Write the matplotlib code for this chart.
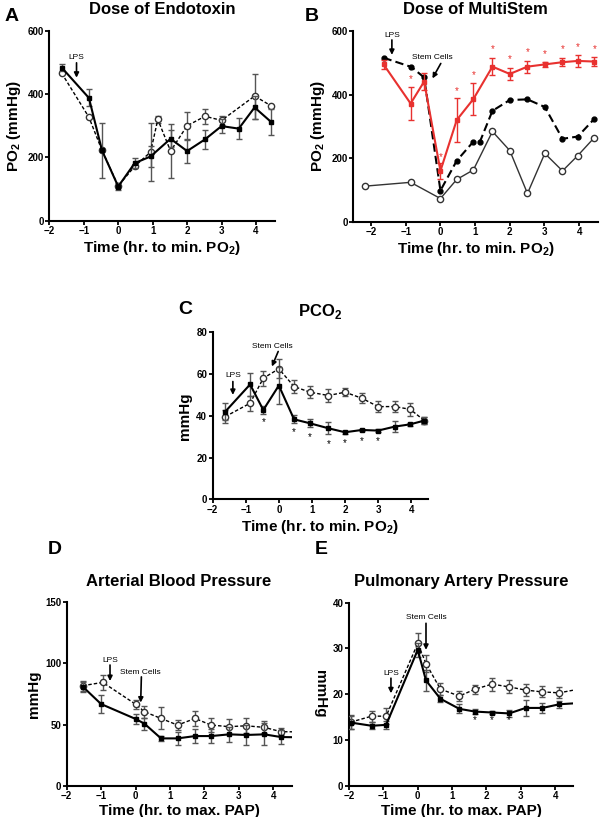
import numpy as np
import matplotlib
matplotlib.use("Agg")
import matplotlib.pyplot as plt

plt.rcParams['font.family'] = ['Liberation Sans', 'DejaVu Sans']
plt.rcParams['mathtext.fontset'] = 'custom'
plt.rcParams['mathtext.rm'] = 'Liberation Sans'
plt.rcParams['mathtext.bf'] = 'Liberation Sans:bold'

#%% data
# A - dose of endotoxin
a_x_solid = [-1.64, -0.85, -0.47, 0.0, 0.48, 0.94, 1.52, 2.0, 2.52, 3.0, 3.5, 3.96, 4.44]
a_y_solid = [484, 388, 222, 108, 182, 203, 259, 220, 257, 299, 291, 358, 312]
a_e_solid = [10, 27, 87, 12, 16, 32, 27, 38, 29, 21, 33, 35, 40]
a_x_open = [-1.64, -0.85, -0.47, 0.0, 0.48, 0.94, 1.15, 1.52, 2.0, 2.52, 3.0, 3.96, 4.44]
a_y_open = [466, 327, 222, 110, 172, 217, 320, 220, 300, 330, 317, 394, 363]
a_e_open = [0, 0, 0, 0, 0, 92, 12, 85, 44, 24, 13, 71, 0]

# B - dose of MultiStem
b_x_red = [-1.64, -0.86, -0.47, 0.0, 0.47, 0.95, 1.5, 2.0, 2.51, 3.01, 3.52, 3.96, 4.44]
b_y_red = [495, 372, 441, 160, 320, 386, 488, 465, 488, 495, 502, 506, 504]
b_e_red = [14, 51, 26, 24, 68, 49, 27, 18, 19, 7, 12, 19, 15]
b_star_x = [-0.86, 0.0, 0.47, 0.95, 1.5, 2.0, 2.51, 3.01, 3.52, 3.96, 4.44]
b_star_y = [448, 205, 412, 462, 542, 511, 535, 527, 542, 548, 544]
b_x_dash = [-1.64, -0.84, -0.47, 0.0, 0.47, 0.95, 1.14, 1.5, 2.0, 2.51, 3.01, 3.52, 3.96, 4.44]
b_y_dash = [516, 487, 454, 98, 192, 252, 252, 349, 383, 385, 361, 261, 268, 324]
b_x_gray = [-2.17, -0.86, 0.0, 0.47, 0.95, 1.5, 2.0, 2.51, 3.01, 3.52, 3.96, 4.44]
b_y_gray = [112, 124, 73, 133, 163, 284, 224, 89, 215, 160, 208, 265]

# C - PCO2
c_x = [-1.62, -0.87, -0.47, 0.0, 0.46, 0.94, 1.5, 2.0, 2.51, 3.0, 3.5, 3.97, 4.4]
c_y_solid = [42, 55, 42.8, 54.5, 38.3, 36.4, 34, 32.1, 33.2, 32.9, 34.8, 35.9, 37.7]
c_e_solid = [4, 5.5, 2, 9, 2, 2, 2.8, 0.6, 0.6, 0.8, 2.8, 0.8, 1.5]
c_y_open = [39.6, 46, 58, 62.5, 54, 51.3, 49.7, 51.3, 48.4, 44.4, 44.4, 43.1, 37.7]
c_e_open = [3, 3.5, 3.5, 4.5, 3, 3, 3, 2, 2.5, 2.5, 2.7, 3, 1.5]
c_star_x = [-0.47, 0.46, 0.94, 1.5, 2.0, 2.51, 3.0]
c_star_y = [37, 32, 30, 26.6, 27, 28, 28]

# D - arterial blood pressure
d_x = [-1.53, -1.0, 0.01, 0.26, 0.74, 1.22, 1.73, 2.19, 2.72, 3.21, 3.74, 4.22, 4.75]
d_y_solid = [81, 66.8, 54.5, 50.7, 38.7, 38.7, 40.6, 40.6, 42, 41.5, 42, 39.8, 39.6]
d_e_solid = [4, 7, 4, 5, 2, 5, 6, 6, 6, 8, 9, 6, 0]
d_x_open = [-1.53, -0.95, 0.01, 0.26, 0.74, 1.22, 1.73, 2.19, 2.72, 3.21, 3.74, 4.22, 4.75]
d_y_open = [81.8, 84.5, 66.5, 60.5, 55, 49.6, 55, 49.6, 48.3, 49, 47.7, 44.2, 44]
d_e_open = [4, 6, 4, 5, 9, 4, 6, 6, 6, 6, 5, 3, 0]

# E - pulmonary artery pressure
e_x = [-1.95, -1.34, -0.92, 0.0, 0.24, 0.66, 1.21, 1.67, 2.16, 2.66, 3.14, 3.63, 4.12, 4.75]
e_y_solid = [13.8, 13.1, 13.3, 29.7, 23, 19, 16.8, 16.2, 16, 15.8, 17, 17, 17.8, 18.1]
e_e_solid = [1.5, 0.8, 0.8, 1.5, 2.2, 0.8, 1, 0.5, 0.3, 0.7, 1.8, 1, 0.8, 0]
e_y_open = [13.9, 15.2, 15.2, 31.1, 26.7, 21.1, 19.6, 21.1, 22.2, 21.6, 20.9, 20.5, 20.3, 21.2]
e_e_open = [1.5, 1.2, 1.8, 2.2, 1.8, 1.3, 1, 1, 1.4, 1.4, 1.4, 1.2, 1.2, 0]
e_star_x = [1.67, 2.16, 2.66]
e_star_y = [14.3, 14.3, 14.3]

#%% helpers
ERR = '#555555'
RED = '#e8312f'


def style(ax, xlim, ylim, yticks, xticks):
    ax.set_xlim(*xlim)
    ax.set_ylim(*ylim)
    ax.set_yticks(yticks)
    ax.set_xticks(xticks)
    for s in ['top', 'right']:
        ax.spines[s].set_visible(False)
    for s in ['left', 'bottom']:
        ax.spines[s].set_linewidth(1.5)
    ax.tick_params(width=1.3, length=3, labelsize=7, pad=1)
    for lab in ax.get_xticklabels() + ax.get_yticklabels():
        lab.set_fontweight('bold')


def solid(ax, x, y, e, color='black', ecolor=ERR):
    ax.errorbar(x, y, yerr=e, color=color, ecolor=ecolor, lw=1.5, elinewidth=1,
                capsize=2.5, capthick=1, marker='s', ms=3.5, mfc=color, mec=color,
                zorder=3)


def dashed(ax, x, y, e):
    ax.errorbar(x, y, yerr=e, color='black', ecolor=ERR, lw=1, ls=(0, (2.5, 1.5)),
                elinewidth=1, capsize=2.5, capthick=1, marker='o', ms=4.5, mfc='white',
                mec='#333333', mew=1, zorder=2)


def arrow(ax, label, x, ytext, y0, y1, size=6):
    ax.text(x, ytext, label, ha='center', va='bottom', fontsize=size)
    ax.annotate('', xy=(x, y1), xytext=(x, y0),
                arrowprops=dict(arrowstyle='-|>', color='black', lw=1.2,
                                mutation_scale=7, shrinkA=0, shrinkB=0))


def stars(ax, x, y, color='black'):
    for xi, yi in zip(x, y):
        ax.text(xi, yi, '*', ha='center', va='center', fontsize=7, color=color)


fig = plt.figure(figsize=(6, 8.17), dpi=100)

#%% A
ax = fig.add_axes([0.0822, 0.7299, 0.376, 0.2323])
dashed(ax, a_x_open, a_y_open, a_e_open)
solid(ax, a_x_solid, a_y_solid, a_e_solid)
style(ax, (-2, 4.55), (0, 600), [0, 200, 400, 600], [-2, -1, 0, 1, 2, 3, 4])
arrow(ax, 'LPS', -1.21, 505, 499, 452)
ax.set_title('Dose of Endotoxin', fontsize=12, fontweight='bold', pad=12)
ax.set_ylabel('PO$_\\mathbf{2}$ (mmHg)', fontsize=11, fontweight='bold', labelpad=3)
ax.set_xlabel('Time (hr. to min. PO$_\\mathbf{2}$)', fontsize=11, fontweight='bold', labelpad=2)
fig.text(0.008, 0.99, 'A', fontsize=14, fontweight='bold', va='top')

#%% B
ax = fig.add_axes([0.589, 0.7286, 0.408, 0.2334])
ax.plot(b_x_gray, b_y_gray, color='#333333', lw=1, marker='o', ms=4.5, mfc='white',
        mec='#333333', mew=1, zorder=2)
ax.plot(b_x_dash, b_y_dash, color='black', lw=1.5, ls=(0, (4, 2)), marker='o', ms=3.5,
        mfc='black', zorder=2)
solid(ax, b_x_red, b_y_red, b_e_red, color=RED, ecolor=RED)
stars(ax, b_star_x, b_star_y, color=RED)
style(ax, (-2.51, 4.55), (0, 600), [0, 200, 400, 600], [-2, -1, 0, 1, 2, 3, 4])
arrow(ax, 'LPS', -1.4, 575, 572, 525)
arrow(ax, 'Stem Cells', -0.23, 505, 498, 451)
ax.texts[-1].set_x(0.01)
ax.set_title('Dose of MultiStem', fontsize=12, fontweight='bold', pad=12)
ax.set_ylabel('PO$_\\mathbf{2}$ (mmHg)', fontsize=11, fontweight='bold', labelpad=3)
ax.set_xlabel('Time (hr. to min. PO$_\\mathbf{2}$)', fontsize=11, fontweight='bold', labelpad=2)
fig.text(0.508, 0.99, 'B', fontsize=14, fontweight='bold', va='top')

#%% C
ax = fig.add_axes([0.3545, 0.3889, 0.3583, 0.2044])
dashed(ax, c_x, c_y_open, c_e_open)
solid(ax, c_x, c_y_solid, c_e_solid)
stars(ax, c_star_x, c_star_y)
style(ax, (-2, 4.5), (0, 80), [0, 20, 40, 60, 80], [-2, -1, 0, 1, 2, 3, 4])
arrow(ax, 'LPS', -1.39, 57.5, 56.4, 50)
arrow(ax, 'Stem Cells', -0.21, 71.5, 70.8, 63.6)
ax.texts[-1].set_x(-0.02)
ax.set_title('PCO$_\\mathbf{2}$', fontsize=12, fontweight='bold', pad=12)
ax.set_ylabel('mmHg', fontsize=11, fontweight='bold', labelpad=3)
ax.set_xlabel('Time (hr. to min. PO$_\\mathbf{2}$)', fontsize=11, fontweight='bold', labelpad=2)
fig.text(0.297, 0.631, 'C', fontsize=14, fontweight='bold', va='top')

#%% D
ax = fig.add_axes([0.111, 0.0383, 0.375, 0.2245])
dashed(ax, d_x_open, d_y_open, d_e_open)
solid(ax, d_x, d_y_solid, d_e_solid)
style(ax, (-2, 4.53), (0, 150), [0, 50, 100, 150], [-2, -1, 0, 1, 2, 3, 4])
arrow(ax, 'LPS', -0.74, 99.5, 98.7, 85.6)
arrow(ax, 'Stem Cells', 0.15, 90.0, 89, 68)
ax.texts[-1].set_x(0.17)
ax.set_title('Arterial Blood Pressure', fontsize=12, fontweight='bold', pad=12)
ax.set_ylabel('mmHg', fontsize=11, fontweight='bold', labelpad=3)
ax.set_xlabel('Time (hr. to max. PAP)', fontsize=11, fontweight='bold', labelpad=2)
fig.text(0.08, 0.338, 'D', fontsize=14, fontweight='bold', va='top')

#%% E
ax = fig.add_axes([0.5817, 0.0383, 0.374, 0.224])
dashed(ax, e_x, e_y_open, e_e_open)
solid(ax, e_x, e_y_solid, e_e_solid)
stars(ax, e_star_x, e_star_y)
style(ax, (-2, 4.53), (0, 40), [0, 10, 20, 30, 40], [-2, -1, 0, 1, 2, 3, 4])
arrow(ax, 'LPS', -0.78, 23.8, 23.5, 20.2)
arrow(ax, 'Stem Cells', 0.24, 35.9, 35.5, 29.7)
ax.set_title('Pulmonary Artery Pressure', fontsize=12, fontweight='bold', pad=12)
ax.set_ylabel('mmHg', fontsize=11, fontweight='bold', rotation=-90, va='center', ha='center')
ax.yaxis.set_label_coords(-0.13, 0.5)
ax.set_xlabel('Time (hr. to max. PAP)', fontsize=11, fontweight='bold', labelpad=2)
fig.text(0.525, 0.338, 'E', fontsize=14, fontweight='bold', va='top')

fig.savefig('out.png', dpi=100)
